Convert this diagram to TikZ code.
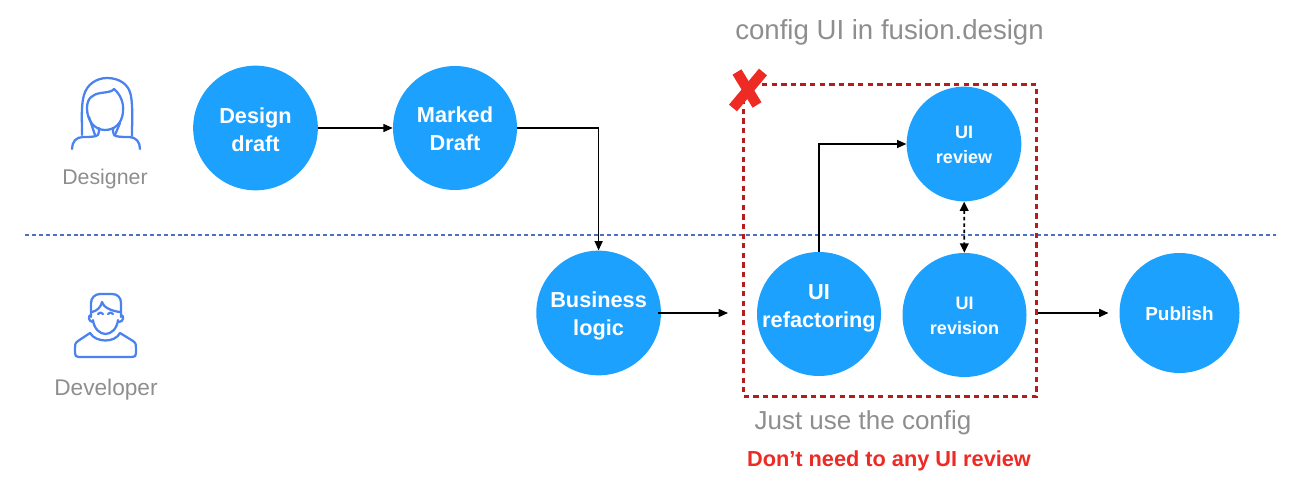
\documentclass[tikz,border=0pt]{standalone}
\usepackage{fontspec}
\setmainfont{Liberation Sans}
\usetikzlibrary{arrows.meta,calc}
\definecolor{cblue}{HTML}{1DA1FF}
\definecolor{iconblue}{HTML}{4A82F0}
\definecolor{boxred}{HTML}{B71C1C}
\definecolor{xred}{HTML}{EE2A24}
\definecolor{sep}{HTML}{4A72C4}
\definecolor{greytxt}{HTML}{8E8E8E}
\tikzset{
  x=0.75pt,y=-0.75pt,
  stepdisc/.style={circle,fill=cblue,inner sep=0pt},
  bigtxt/.style={text=white,inner sep=0pt,align=center,font=\fontsize{16.3}{21}\selectfont\bfseries},
  smalltxt/.style={text=white,inner sep=0pt,align=center,font=\fontsize{13.5}{18.7}\selectfont\bfseries},
  flow/.style={draw=black,line width=1.1pt,-{Triangle[length=7pt,width=6pt]}},
  icon/.style={draw=iconblue,line width=1.7pt,line cap=round,line join=round},
  grey/.style={text=greytxt,inner sep=0pt,font=\fontsize{16}{20}\selectfont},
}
\begin{document}
\begin{tikzpicture}
\useasboundingbox (0,0) rectangle (1300,488);
% separator
\coordinate (sepL) at (25,235);
\coordinate (sepR) at (1276,235);
\draw[sep,line width=1.1pt,dash pattern=on 3pt off 2.2pt] (sepL) -- (sepR);
% discs
\node[stepdisc,minimum size=93.5pt,label={[bigtxt,yshift=-1pt]center:{Design\\draft}}] (design) at (255.5,128) {};
\node[stepdisc,minimum size=93pt,label={[bigtxt,yshift=-0.5pt]center:{Marked\\Draft}}] (marked) at (455,128) {};
\node[stepdisc,minimum size=93.5pt,label={[bigtxt,yshift=-2pt]center:{Business\\logic}}] (business) at (598.6,313) {};
\node[stepdisc,minimum size=93pt,label={[bigtxt,yshift=4.5pt]center:{UI\\refactoring}}] (refactor) at (819,314) {};
\node[stepdisc,minimum size=93pt,label={[smalltxt,yshift=-1pt]center:{UI\\revision}}] (revision) at (964.5,315) {};
\node[stepdisc,minimum size=86pt,label={[smalltxt,yshift=-0.7pt]center:{UI\\review}}] (review) at (964,144) {};
\node[stepdisc,minimum size=90pt,label={[smalltxt,font=\fontsize{14.2}{18}\selectfont\bfseries,yshift=-0.5pt]center:{Publish}}] (publish) at (1179.5,313) {};
% red frame
\node[draw=boxred,line width=2.2pt,dash pattern=on 4pt off 3.2pt,minimum width=219.5pt,minimum height=234pt,inner sep=0pt] (frame) at (890,240.5) {};
% connectors
\coordinate (bizEnd) at (728,313);
\draw[flow] (design) -- (marked);
\draw[flow] (marked.east) -| (business.north);
\draw[flow,shorten <=-2.5pt] (business.east) -- (bizEnd);
\draw[flow] (refactor.north) |- (review.west);
\draw[flow,shorten >=8pt] (frame.east |- publish) -- (publish);
\draw[draw=black,line width=1.3pt,dash pattern=on 2.6pt off 2.2pt,{Triangle[length=7pt,width=6.5pt]}-{Triangle[length=7pt,width=6.5pt]}] (review) -- (revision);
% red cross
\draw[xred,line width=7.8pt] (737,72) -- (757,105);
\draw[xred,line width=7.8pt] (763,72) -- (733,108);
% designer icon
\begin{scope}[icon]
\draw (72,149) .. controls (72,142) and (76,137) .. (83,137)
  .. controls (90,137) and (95,137) .. (98,135)
  .. controls (99,133) and (99,131) .. (99,128);
\draw (140,149) .. controls (140,142) and (136,137) .. (129,137)
  .. controls (122,137) and (116,137) .. (114,135)
  .. controls (113,133) and (113,131) .. (113,128);
\draw (82,135) .. controls (82,118) and (81,105) .. (84,95)
  .. controls (87,84) and (97,78) .. (107,78)
  .. controls (119,78) and (129,84) .. (131,96)
  .. controls (133,108) and (132,122) .. (132,136);
\draw (87,108) .. controls (87,98) and (93,94) .. (101,93)
  .. controls (107,92) and (112,92) .. (114,89)
  .. controls (120,94) and (124,102) .. (123,112)
  .. controls (122,124) and (114,130) .. (105,130)
  .. controls (94,130) and (87,120) .. (87,108);
\draw (89,117) -- (95,135);
\draw (120,123) -- (115,135);
\end{scope}
% developer icon
\begin{scope}[icon]
\draw (91,317) -- (91,303) .. controls (91,298) and (95,294) .. (100,294)
  -- (112,294) .. controls (118,294) and (121,298) .. (121,303) -- (121,317);
\draw (92,312) .. controls (97,311) and (101,307) .. (102,302)
  .. controls (103,307) and (111,311) .. (120,312);
\draw (91,315) .. controls (88,315) and (88,322) .. (93,322);
\draw (121,315) .. controls (124,315) and (124,322) .. (119,322);
\draw (93,320) .. controls (94,329) and (100,334) .. (105.5,334)
  .. controls (111,334) and (117,329) .. (118,320);
\draw (98,314) .. controls (99,312) and (102,312) .. (103,314);
\draw (108,314) .. controls (109,312) and (112,312) .. (113,314);
\draw (90,333) .. controls (96,343) and (115,343) .. (120,333);
\draw (90,333) -- (78,341) .. controls (75,343) and (75,345) .. (75,348)
  -- (75,353) .. controls (75,356) and (76,357) .. (79,357)
  -- (132,357) .. controls (135,357) and (136,356) .. (136,353)
  -- (136,348) .. controls (136,345) and (136,343) .. (133,341) -- (120,333);
\end{scope}
% labels
\node[grey,anchor=center] (lblDesigner) at (105,179) {Designer};
\node[grey,font=\fontsize{17}{20}\selectfont,anchor=center] (lblDeveloper) at (106,390) {Developer};
\node[grey,font=\fontsize{20.7}{25}\selectfont,anchor=center] (lblFusion) at (889.5,32) {config UI in fusion.design};
\node[grey,font=\fontsize{19.5}{23}\selectfont,anchor=center] (lblConfig) at (863,422.5) {Just use the config};
\node[text=xred,inner sep=0pt,font=\fontsize{16.3}{20}\selectfont\bfseries,anchor=center] (lblDont) at (889,461) {Don’t need to any UI review};
\end{tikzpicture}
\end{document}
